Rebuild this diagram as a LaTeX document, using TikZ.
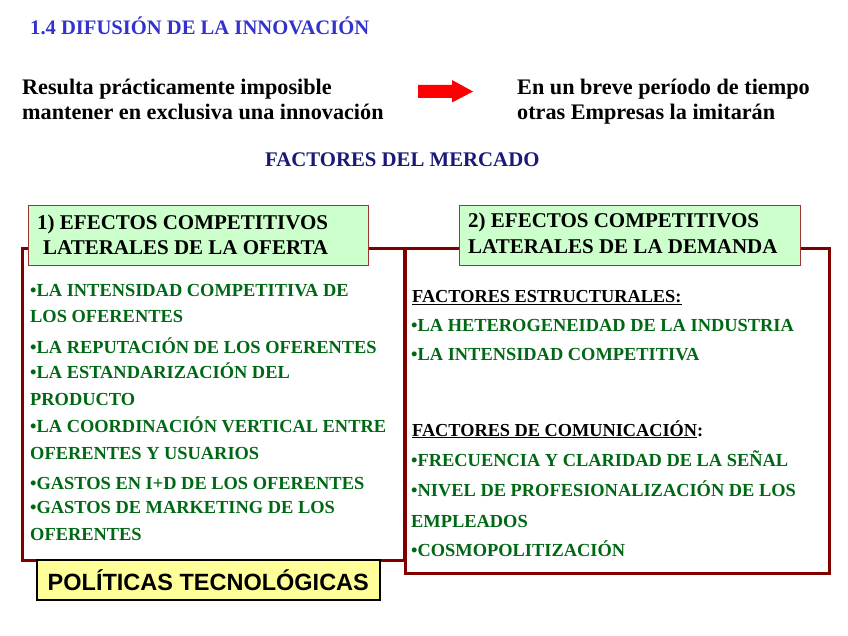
\documentclass[tikz,border=0pt]{standalone}
\usepackage{fontspec}
\setmainfont{Liberation Serif}
\newfontfamily\arialfont{Liberation Sans}
\definecolor{titleblue}{RGB}{51,51,204}
\definecolor{navy}{RGB}{25,25,120}
\definecolor{itemgreen}{RGB}{0,104,20}
\definecolor{boxred}{RGB}{128,0,0}
\definecolor{hdrred}{RGB}{160,50,50}
\definecolor{hdrfill}{RGB}{204,255,204}
\definecolor{polfill}{RGB}{255,255,153}
\tikzset{
  ln/.style={inner sep=0pt, anchor=base west},
  item/.style={ln, text=itemgreen, font=\fontsize{18.4}{22}\selectfont\bfseries},
  subhd/.style={ln, text=black, font=\fontsize{18.3}{22}\selectfont\bfseries},
  hdtext/.style={ln, text=black, font=\fontsize{21}{25}\selectfont\bfseries},
  toptext/.style={ln, text=black, font=\fontsize{22.2}{26}\selectfont\bfseries},
  bigbox/.style={draw=boxred, line width=3pt, fill=white},
  hdrbox/.style={draw=hdrred, line width=1.3pt, fill=hdrfill},
}
\begin{document}
\begin{tikzpicture}[x=1pt,y=-1pt]
\useasboundingbox (0,0) rectangle (848,636);
% title
\node[ln, text=titleblue, font=\fontsize{20.6}{24}\selectfont\bfseries] (title) at (30,34.5) {1.4 DIFUSIÓN DE LA INNOVACIÓN};
% top texts
\node[toptext] (ta) at (22,95) {Resulta prácticamente imposible};
\node[toptext] (tb) at (22,119.5) {mantener en exclusiva una innovación};
\node[toptext] (tc) at (517,95) {En un breve período de tiempo};
\node[toptext] (td) at (517,119.5) {otras Empresas la imitarán};
\fill[red] (418,85) -- (452,85) -- (452,80) -- (473,91.5) -- (452,102.5) -- (452,98) -- (418,98) -- cycle;
% factores del mercado
\node[ln, text=navy, font=\fontsize{20.8}{24}\selectfont\bfseries] (fm) at (265,166.5) {FACTORES DEL MERCADO};
% big boxes
\node[bigbox, anchor=north west, minimum width=382pt, minimum height=311pt, inner sep=0pt] (lbox) at (20.5,247.5) {};
\node[bigbox, anchor=north west, minimum width=424pt, minimum height=324pt, inner sep=0pt] (rbox) at (403.5,247.5) {};
% header boxes
\node[hdrbox, anchor=north west, minimum width=340pt, minimum height=60pt, inner sep=0pt] (h1) at (28,205) {};
\node[hdrbox, anchor=north west, minimum width=341pt, minimum height=60pt, inner sep=0pt] (h2) at (459,205) {};
\node[hdtext] (h1a) at (37,229.3) {1) EFECTOS COMPETITIVOS};
\node[hdtext] (h1b) at (43,254.5) {LATERALES DE LA OFERTA};
\node[hdtext] (h2a) at (468,228) {2) EFECTOS COMPETITIVOS};
\node[hdtext] (h2b) at (468,253.5) {LATERALES DE LA DEMANDA};
% left items
\node[item] (l1) at (30,296) {•LA INTENSIDAD COMPETITIVA DE};
\node[item] (l2) at (30,322.7) {LOS OFERENTES};
\node[item] (l3) at (30,353.3) {•LA REPUTACIÓN DE LOS OFERENTES};
\node[item] (l4) at (30,378.3) {•LA ESTANDARIZACIÓN DEL};
\node[item] (l5) at (30,405) {PRODUCTO};
\node[item] (l6) at (30,432.3) {•LA COORDINACIÓN VERTICAL ENTRE};
\node[item] (l7) at (30,459.3) {OFERENTES Y USUARIOS};
\node[item] (l8) at (30,489.3) {•GASTOS EN I+D DE LOS OFERENTES};
\node[item] (l9) at (30,513.3) {•GASTOS DE MARKETING DE LOS};
\node[item] (l10) at (30,540) {OFERENTES};
% right items
\node[subhd] (r1) at (412,302.7) {\underline{FACTORES ESTRUCTURALES:}};
\node[item] (r2) at (411,331.7) {•LA HETEROGENEIDAD DE LA INDUSTRIA};
\node[item] (r3) at (411,360.7) {•LA INTENSIDAD COMPETITIVA};
\node[subhd] (r4) at (412,436) {\underline{FACTORES DE COMUNICACIÓN}:};
\node[item] (r5) at (411,466.7) {•FRECUENCIA Y CLARIDAD DE LA SEÑAL};
\node[item] (r6) at (411,496) {•NIVEL DE PROFESIONALIZACIÓN DE LOS};
\node[item] (r7) at (411,527.7) {EMPLEADOS};
\node[item] (r8) at (411,556.7) {•COSMOPOLITIZACIÓN};
% politicas
\node[draw=black, line width=1.6pt, fill=polfill, anchor=north west, minimum width=343pt, minimum height=40pt, inner sep=0pt,
      font=\arialfont\fontsize{23.5}{28}\selectfont\bfseries] (pol) at (36,559) {POLÍTICAS TECNOLÓGICAS};
\end{tikzpicture}
\end{document}
